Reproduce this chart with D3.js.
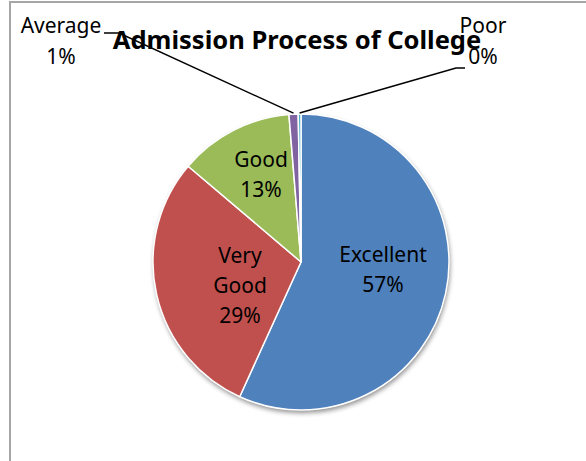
<!DOCTYPE html>
<html>
<head>
<meta charset="utf-8">
<script src="https://cdn.jsdelivr.net/npm/d3@7"></script>
<style>
  body { margin: 0; background: #fff; }
  text { font-family: 'Noto Sans', 'Open Sans', sans-serif; fill: #000; }
</style>
</head>
<body>
<svg id="chart"></svg>
<script>
'use strict';

var categories = ['Excellent', 'Very Good', 'Good', 'Average', 'Poor'];
var shares = [56.8, 29.4, 12.5, 1.0, 0.3];
var colours = ['#4f81bd', '#c0504d', '#9bbb59', '#8064a2', '#4bacc6'];

var width = 586, height = 461;
var radius = 148;
var cx = 301, cy = 262;
var label_size = 21;

var svg = d3.select('#chart').attr('width', width).attr('height', height);

// chart frame (only top and left edges show)
svg.append('path')
  .attr('d', 'M10,' + height + 'V2H' + width)
  .attr('fill', 'none').attr('stroke', '#a6a6a6').attr('stroke-width', 2);

var defs = svg.append('defs');
var shadow = defs.append('filter').attr('id', 'shadow')
  .attr('x', '-10%').attr('y', '-10%').attr('width', '120%').attr('height', '120%');
shadow.append('feGaussianBlur').attr('in', 'SourceAlpha').attr('stdDeviation', 2.5);
shadow.append('feOffset').attr('dx', 1).attr('dy', 3).attr('result', 'blur');
shadow.append('feComponentTransfer').append('feFuncA').attr('type', 'linear').attr('slope', 0.45);
var merge = shadow.append('feMerge');
merge.append('feMergeNode');
merge.append('feMergeNode').attr('in', 'SourceGraphic');

var pie = d3.pie().sort(null).value(function (d) { return d; });
var arcs = pie(shares);
var total = d3.sum(shares);
var arc = d3.arc().innerRadius(0).outerRadius(radius);

var main_group = svg.append('g').attr('transform', 'translate(' + cx + ',' + cy + ')');

main_group.append('circle').attr('r', radius).attr('fill', '#fff').attr('filter', 'url(#shadow)');

main_group.selectAll('.slice').data(arcs).enter().append('path')
  .attr('class', 'slice')
  .attr('d', arc)
  .attr('fill', function (d, i) { return colours[i]; })
  .attr('stroke', '#fff').attr('stroke-width', 1.5).attr('stroke-linejoin', 'round');

function pct(i) { return Math.round(shares[i] / total * 100) + '%'; }

// inside labels: [index, x, y of first baseline, lines]
var inside = [
  [0, 82, 0, ['Excellent']],
  [1, -61, 1, ['Very', 'Good']],
  [2, -40, -95, ['Good']]
];
var line_h = 30;
inside.forEach(function (l) {
  var lines = l[3].concat([pct(l[0])]);
  var t = main_group.append('text').attr('text-anchor', 'middle').style('font-size', label_size + 'px');
  lines.forEach(function (s, k) {
    t.append('tspan').attr('x', l[1]).attr('y', l[2] + k * line_h).text(s);
  });
});

// outside labels with leader lines
var outside = [
  { i: 3, x: 61, y: 33, elbow: [[104, 33], [119, 33]] },
  { i: 4, x: 483, y: 33, elbow: [[465, 68], [456, 68]] }
];
outside.forEach(function (o) {
  var a = arcs[o.i];
  var mid = (a.startAngle + a.endAngle) / 2;
  var px = cx + (radius + 1) * Math.sin(mid);
  var py = cy - (radius + 1) * Math.cos(mid);
  var pts = o.elbow.concat([[px, py]]);
  svg.append('path')
    .attr('d', d3.line()(pts))
    .attr('fill', 'none').attr('stroke', '#000').attr('stroke-width', 1.5);
  var t = svg.append('text').attr('text-anchor', 'middle').style('font-size', label_size + 'px');
  t.append('tspan').attr('x', o.x).attr('y', o.y).text(categories[o.i]);
  t.append('tspan').attr('x', o.x).attr('y', o.y + 31).text(pct(o.i));
});

svg.append('text')
  .attr('x', 297).attr('y', 49)
  .attr('text-anchor', 'middle')
  .style('font-size', '25.5px').style('font-weight', 'bold')
  .text('Admission Process of College');
</script>
</body>
</html>
